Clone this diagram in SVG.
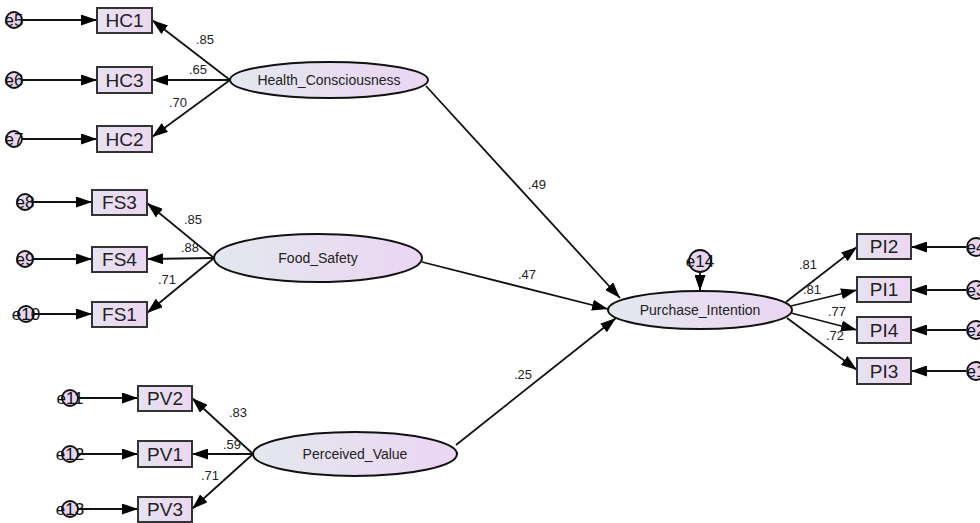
<svg xmlns="http://www.w3.org/2000/svg" width="980" height="523" viewBox="0 0 980 523">
<defs>
<linearGradient id="gE" x1="0" y1="0" x2="1" y2="0"><stop offset="0" stop-color="#e3e8ee"/><stop offset="1" stop-color="#ebd5f3"/></linearGradient>
<linearGradient id="gB" x1="0" y1="0" x2="1" y2="0"><stop offset="0" stop-color="#e6e2f1"/><stop offset="1" stop-color="#ecd6f1"/></linearGradient>
<marker id="ah" viewBox="0 0 16 11" refX="16" refY="5.5" markerWidth="16" markerHeight="11" markerUnits="userSpaceOnUse" orient="auto"><path d="M0,0 L16,5.5 L0,11 z" fill="#000"/></marker>
<style>
.box{fill:url(#gB);stroke:#333;stroke-width:2}
.lat{fill:url(#gE);stroke:#111;stroke-width:2}
.err{fill:#e8d6f0;stroke:#111;stroke-width:1.8}
.bt{font-family:"Liberation Sans",Arial,sans-serif;font-size:19px;fill:#222;text-anchor:middle}
.lt{font-family:"Liberation Sans",Arial,sans-serif;font-size:14px;fill:#222;text-anchor:middle}
.et{font-family:"Liberation Sans",Arial,sans-serif;font-size:17px;fill:#111;text-anchor:middle}
.cl{font-family:"Liberation Sans",Arial,sans-serif;font-size:13px;fill:#222;text-anchor:middle}
.c path{fill:none;stroke:#111;stroke-width:1.8;marker-end:url(#ah)}
</style>
</defs>
<rect width="980" height="523" fill="#fff"/>
<g id="connectors" class="c">
<path d="M230,80 L152,20"/>
<path d="M230,80 L152,80"/>
<path d="M230,80 L152,137"/>
<path d="M214,258 L147,203"/>
<path d="M214,258 L147,259"/>
<path d="M214,258 L147,313"/>
<path d="M253,454 L192,398"/>
<path d="M253,454 L192,454"/>
<path d="M253,454 L192,509"/>
<path d="M426,86 L620,298"/>
<path d="M422,262 L608,309"/>
<path d="M456,445 L616,318"/>
<path d="M786,302 L857,247"/>
<path d="M791,306 L857,290"/>
<path d="M791,313 L857,330"/>
<path d="M787,318 L857,370"/>
<path d="M22,20 L97,20"/>
<path d="M22,80 L97,80"/>
<path d="M22,139 L97,139"/>
<path d="M33,202 L92,202"/>
<path d="M33,259 L92,259"/>
<path d="M34,314 L92,314"/>
<path d="M78,398 L138,398"/>
<path d="M78,454 L138,454"/>
<path d="M78,509 L138,509"/>
<path d="M966,247 L911,247"/>
<path d="M966,290 L911,290"/>
<path d="M966,330 L911,330"/>
<path d="M966,371 L911,371"/>
<path d="M700,272 L700,291"/>
</g>
<g id="labels">
<text class="cl" x="205" y="44">.85</text>
<text class="cl" x="198" y="74">.65</text>
<text class="cl" x="178" y="107">.70</text>
<text class="cl" x="193" y="224">.85</text>
<text class="cl" x="190" y="252">.88</text>
<text class="cl" x="167" y="284">.71</text>
<text class="cl" x="238" y="417">.83</text>
<text class="cl" x="232" y="449">.59</text>
<text class="cl" x="210" y="480">.71</text>
<text class="cl" x="537" y="189">.49</text>
<text class="cl" x="527" y="279">.47</text>
<text class="cl" x="523" y="379">.25</text>
<text class="cl" x="808" y="269">.81</text>
<text class="cl" x="812" y="294">.81</text>
<text class="cl" x="837" y="316">.77</text>
<text class="cl" x="835" y="340">.72</text>
</g>
<g id="Health_Consciousness"><ellipse class="lat" cx="329" cy="80" rx="99" ry="18"/><text class="lt" x="329" y="85">Health_Consciousness</text></g>
<g id="Food_Safety"><ellipse class="lat" cx="318" cy="258" rx="104" ry="24"/><text class="lt" x="318" y="263">Food_Safety</text></g>
<g id="Perceived_Value"><ellipse class="lat" cx="355" cy="454" rx="102" ry="22"/><text class="lt" x="355" y="459">Perceived_Value</text></g>
<g id="Purchase_Intention"><ellipse class="lat" cx="700" cy="310" rx="92" ry="19"/><text class="lt" x="700" y="315">Purchase_Intention</text></g>
<g id="HC1"><rect class="box" x="97" y="8" width="55" height="25"/><text class="bt" x="124.5" y="27">HC1</text></g>
<g id="HC3"><rect class="box" x="97" y="67" width="55" height="26"/><text class="bt" x="124.5" y="87">HC3</text></g>
<g id="HC2"><rect class="box" x="97" y="126" width="55" height="26"/><text class="bt" x="124.5" y="146">HC2</text></g>
<g id="FS3"><rect class="box" x="92" y="190" width="55" height="25"/><text class="bt" x="119.5" y="209">FS3</text></g>
<g id="FS4"><rect class="box" x="92" y="247" width="55" height="25"/><text class="bt" x="119.5" y="266">FS4</text></g>
<g id="FS1"><rect class="box" x="92" y="302" width="55" height="25"/><text class="bt" x="119.5" y="321">FS1</text></g>
<g id="PV2"><rect class="box" x="138" y="386" width="54" height="25"/><text class="bt" x="165" y="405">PV2</text></g>
<g id="PV1"><rect class="box" x="138" y="441" width="54" height="26"/><text class="bt" x="165" y="461">PV1</text></g>
<g id="PV3"><rect class="box" x="138" y="497" width="54" height="25"/><text class="bt" x="165" y="516">PV3</text></g>
<g id="PI2"><rect class="box" x="857" y="234" width="54" height="25"/><text class="bt" x="884" y="253">PI2</text></g>
<g id="PI1"><rect class="box" x="857" y="277" width="54" height="25"/><text class="bt" x="884" y="296">PI1</text></g>
<g id="PI4"><rect class="box" x="857" y="317" width="54" height="26"/><text class="bt" x="884" y="337">PI4</text></g>
<g id="PI3"><rect class="box" x="857" y="358" width="54" height="26"/><text class="bt" x="884" y="378">PI3</text></g>
<g id="e5"><circle class="err" cx="14" cy="20" r="8"/><text class="et" x="14" y="26">e5</text></g>
<g id="e6"><circle class="err" cx="14" cy="80" r="8"/><text class="et" x="14" y="86">e6</text></g>
<g id="e7"><circle class="err" cx="14" cy="139" r="8"/><text class="et" x="14" y="145">e7</text></g>
<g id="e8"><circle class="err" cx="25" cy="202" r="8"/><text class="et" x="25" y="208">e8</text></g>
<g id="e9"><circle class="err" cx="25" cy="259" r="8"/><text class="et" x="25" y="265">e9</text></g>
<g id="e10"><circle class="err" cx="26" cy="314" r="8"/><text class="et" x="26" y="320">e10</text></g>
<g id="e11"><circle class="err" cx="70" cy="398" r="8"/><text class="et" x="70" y="404">e11</text></g>
<g id="e12"><circle class="err" cx="70" cy="454" r="8"/><text class="et" x="70" y="460">e12</text></g>
<g id="e13"><circle class="err" cx="70" cy="509" r="8"/><text class="et" x="70" y="515">e13</text></g>
<g id="e14"><circle class="err" cx="700" cy="261" r="11"/><text class="et" x="700" y="267">e14</text></g>
<g id="e4"><circle class="err" cx="976" cy="247" r="9"/><text class="et" x="976" y="253">e4</text></g>
<g id="e3"><circle class="err" cx="976" cy="290" r="9"/><text class="et" x="976" y="296">e3</text></g>
<g id="e2"><circle class="err" cx="976" cy="330" r="9"/><text class="et" x="976" y="336">e2</text></g>
<g id="e1"><circle class="err" cx="976" cy="371" r="9"/><text class="et" x="976" y="377">e1</text></g>
</svg>
